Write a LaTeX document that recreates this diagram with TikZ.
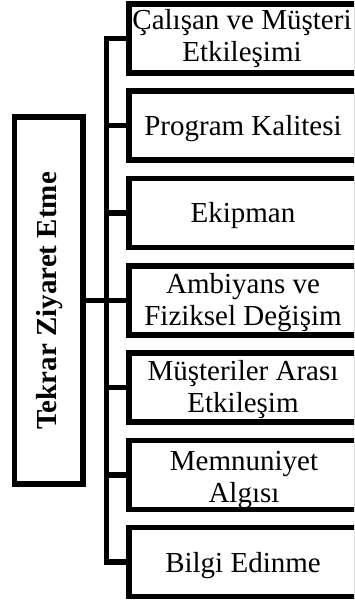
\documentclass[tikz,border=0pt]{standalone}
\usepackage{fontspec}
\setmainfont{Liberation Serif}
\begin{document}
\begin{tikzpicture}[x=1pt,y=-1pt,
  box/.style={draw=black, line width=5.5pt, minimum width=228pt, minimum height=69pt,
              inner sep=0pt, outer sep=0pt, anchor=north west},
  mainbox/.style={draw=black, line width=5.5pt, minimum width=68.5pt, minimum height=367pt,
              inner sep=0pt, outer sep=0pt, anchor=north west},
  conn/.style={draw=black, line width=5.5pt, line join=miter, line cap=butt},
  lbl/.style={font=\fontsize{29}{32}\selectfont, inner sep=0pt, anchor=base},
  mainlbl/.style={font=\bfseries\fontsize{29}{32}\selectfont, inner sep=0pt, anchor=base, rotate=90}]
\useasboundingbox (0,0) rectangle (354,601);
\fill[white] (0,0) rectangle (354,601);
\clip (0,0) rectangle (354,601);

% main box
\node[mainbox] (main) at (14.5,117) {};
\node[mainlbl] (mainT) at (56.7,301) {Tekrar Ziyaret Etme};

% right boxes
\node[box] (b1) at (129,4) {};
\node[box] (b2) at (129,91.25) {};
\node[box] (b3) at (129,178.5) {};
\node[box] (b4) at (129,265.75) {};
\node[box] (b5) at (129,353) {};
\node[box] (b6) at (129,440.25) {};
\node[box] (b7) at (129,527.5) {};

% labels
\node[lbl] (t1) at ([xshift=-1pt,yshift=8.5pt]b1.center) {\begin{tabular}[t]{@{}c@{}}Çalışan ve Müşteri\\Etkileşimi\end{tabular}};
\node[lbl] (t2) at ([yshift=-10pt]b2.center) {Program Kalitesi};
\node[lbl] (t3) at ([yshift=-10pt]b3.center) {Ekipman};
\node[lbl] (t4) at ([yshift=7pt]b4.center) {\begin{tabular}[t]{@{}c@{}}Ambiyans ve\\Fiziksel Değişim\end{tabular}};
\node[lbl] (t5) at ([yshift=7.5pt]b5.center) {\begin{tabular}[t]{@{}c@{}}Müşteriler Arası\\Etkileşim\end{tabular}};
\node[lbl] (t6) at ([xshift=1pt,yshift=4pt]b6.center) {\begin{tabular}[t]{@{}c@{}}Memnuniyet\\Algısı\end{tabular}};
\node[lbl] (t7) at ([yshift=-10pt]b7.center) {Bilgi Edinme};

% connectors
\coordinate (T) at (106.3,0);
\draw[conn] (b1.west) -- (b1.west -| T) -- (b7.west -| T) -- (b7.west);
\draw[conn] (b2.west) -- (b2.west -| T);
\draw[conn] (b3.west) -- (b3.west -| T);
\draw[conn] (b4.west) -- (b4.west -| T);
\draw[conn] (b5.west) -- (b5.west -| T);
\draw[conn] (b6.west) -- (b6.west -| T);
\draw[conn] (main.east) -- (main.east -| T);
\end{tikzpicture}
\end{document}
